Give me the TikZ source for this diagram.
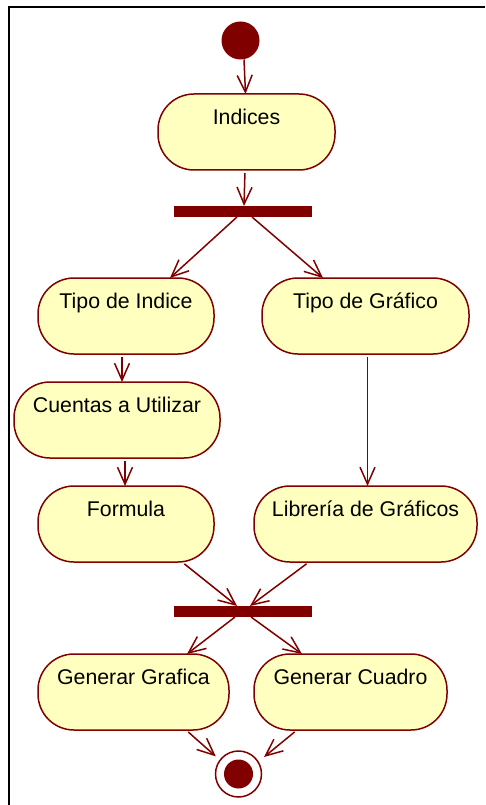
\documentclass[tikz,border=0pt]{standalone}
\usepackage{fontspec}
\setmainfont{Liberation Sans}
\usetikzlibrary{arrows.meta}
\definecolor{umlred}{RGB}{128,0,0}
\definecolor{umlfill}{RGB}{255,255,192}
\tikzset{
  act/.style={draw=umlred, fill=umlfill, line width=1.5pt, rounded corners=36pt,
    minimum height=76pt, inner sep=0pt, outer sep=0pt, text height=30.5pt, text depth=45.5pt,
    font=\fontsize{21.3}{24}\selectfont, text=black},
  bar/.style={fill=umlred, draw=none, minimum width=138pt, minimum height=11pt, inner sep=0pt, outer sep=0pt},
  flow/.style={draw=umlred, line width=1.5pt, -{Straight Barb[length=17pt,width=15pt,line width=1.5pt]}},
}
\begin{document}
\begin{tikzpicture}[x=1pt,y=-1pt]
\useasboundingbox (0,0) rectangle (485,805);
\draw[line width=2pt, black] (485,7) -- (9,7) -- (9,805);

\node[circle, fill=umlred, minimum size=38pt, inner sep=0pt, outer sep=0pt] (start) at (240.5,40.5) {};
\node[act, minimum width=177pt] (indices) at (246.5,132) {Indices};
\node[bar] (fork) at (243,211.5) {};
\node[act, minimum width=176pt] (tipoi) at (126,316) {Tipo de Indice};
\node[act, minimum width=207pt] (tipog) at (365.5,316) {Tipo de Gráfico};
\node[act, minimum width=206pt] (cuentas) at (117,420) {Cuentas a Utilizar};
\node[act, minimum width=176pt] (formula) at (126,524) {Formula};
\node[act, minimum width=223pt] (libreria) at (365.5,524) {Librería de Gráficos};
\node[bar] (join) at (243,611.5) {};
\node[act, minimum width=191pt] (gengraf) at (133.5,692) {Generar Grafica};
\node[act, minimum width=193pt] (gencuad) at (350.5,692) {Generar Cuadro};
\node[circle, draw=umlred, fill=white, line width=1.5pt, minimum size=46pt, inner sep=0pt] (endn) at (238.5,774) {};
\node[circle, fill=umlred, minimum size=29pt, inner sep=0pt] (endin) at (238.5,774) {};

\draw[flow] ([xshift=3.5pt]start.south) -- ([xshift=-1pt]indices.north);
\draw[flow, shorten <=3pt] ([xshift=-1.5pt]indices.south) -- ([xshift=1pt]fork.north);
\draw[flow] ([xshift=-6pt]fork.south) -- ([xshift=44pt]tipoi.north);
\draw[flow] ([xshift=9pt]fork.south) -- ([xshift=-42.5pt]tipog.north);
\draw[flow, shorten <=3pt] ([xshift=-4pt]tipoi.south) -- ([xshift=5pt]cuentas.north);
\draw[flow, shorten <=3pt] ([xshift=8pt]cuentas.south) -- ([xshift=-1pt]formula.north);
\draw[flow, shorten <=3pt] ([xshift=2pt]tipog.south) -- ([xshift=2pt]libreria.north);
\draw[flow, shorten <=3pt] ([xshift=56pt]formula.south) -- ([xshift=-6pt]join.north);
\draw[flow, shorten <=3pt] ([xshift=-56.5pt]libreria.south) -- ([xshift=7pt]join.north);
\draw[flow] ([xshift=-8pt]join.south) -- ([xshift=53.5pt]gengraf.north);
\draw[flow] ([xshift=8pt]join.south) -- ([xshift=-48.5pt]gencuad.north);
\draw[flow, shorten <=3pt, shorten >=5pt] ([xshift=52.5pt]gengraf.south) -- (endn.143);
\draw[flow, shorten <=3pt, shorten >=7pt] ([xshift=-53.5pt]gencuad.south) -- (endn.32);
\end{tikzpicture}
\end{document}
